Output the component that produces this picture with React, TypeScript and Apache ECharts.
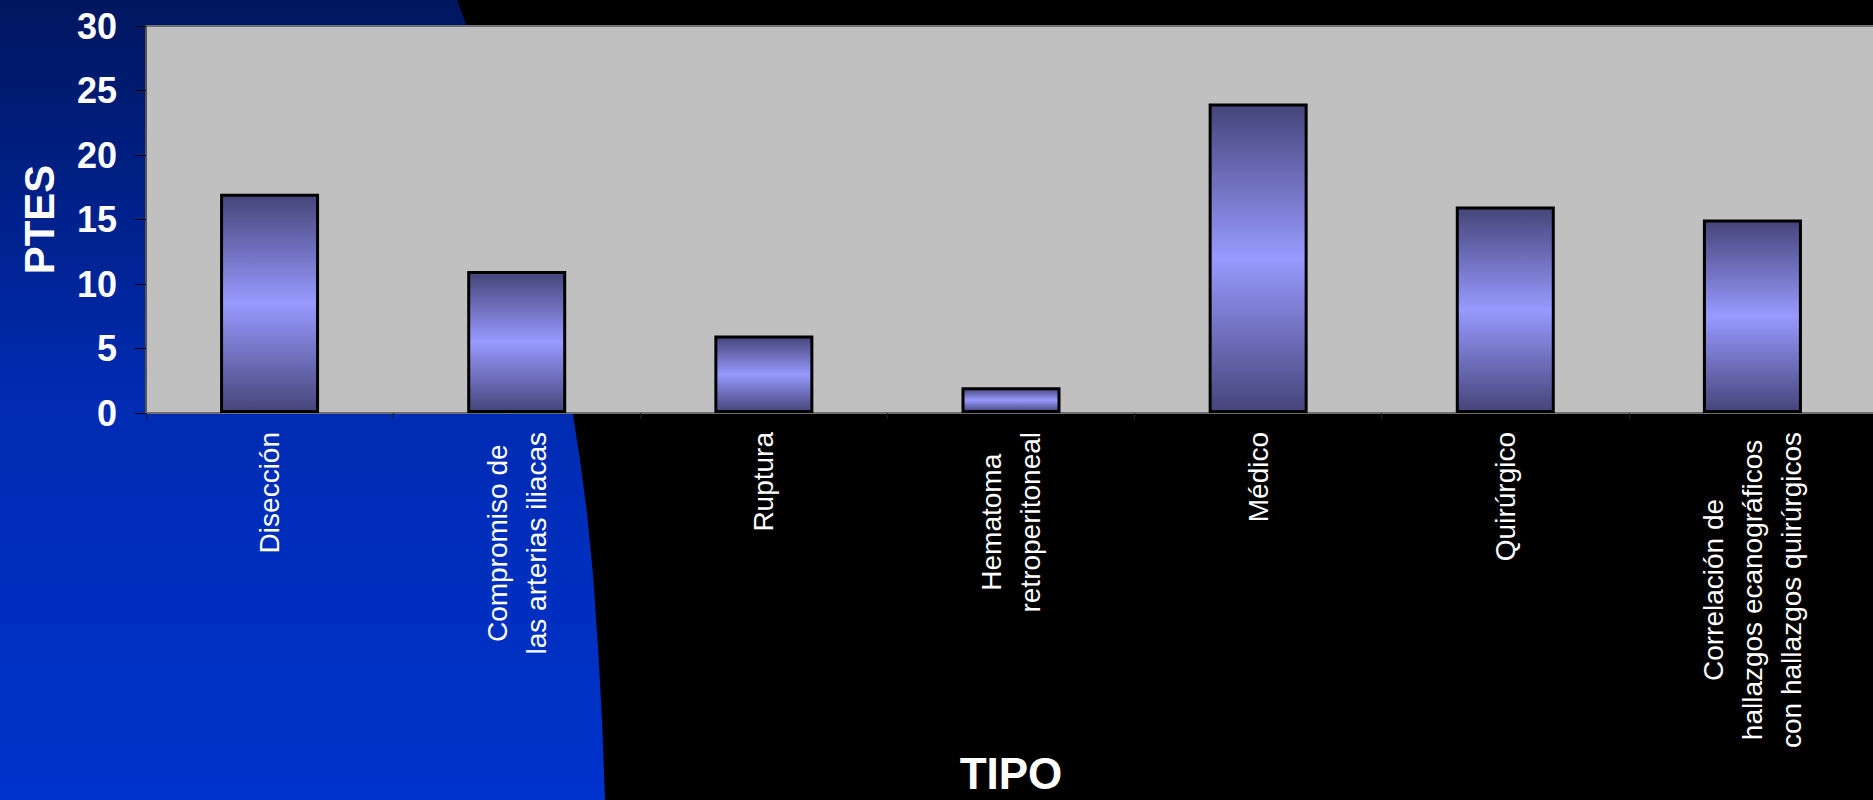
import React, { useEffect, useRef } from "react";
import * as echarts from "echarts";

const categories = [
  "Disección",
  "Compromiso de\nlas arterias iliacas",
  "Ruptura",
  "Hematoma\nretroperitoneal",
  "Médico",
  "Quirúrgico",
  "Correlación de\nhallazgos ecanográficos\ncon hallazgos quirúrgicos",
];
const values = [17, 11, 6, 2, 24, 16, 15];
const yMin = 0;
const yMax = 30;
const yStep = 5;
const xTitle = "TIPO";
const yTitle = "PTES";

export default function App() {
  const ref = useRef<HTMLDivElement>(null);
  useEffect(() => {
    if (!ref.current) return;
    const chart = echarts.init(ref.current, undefined, { renderer: "svg" });
    const font = "'Liberation Sans', Arial, sans-serif";
    chart.setOption({
      animation: false,
      backgroundColor: "#000000",
      graphic: [
        {
          type: "polygon",
          z: -10,
          silent: true,
          shape: {
            points: [
              [0, 0],
              [457, 0],
              [466, 24],
              [500, 130],
              [530, 240],
              [555, 335],
              [573, 415],
              [580, 460],
              [587, 513],
              [593, 575],
              [598, 647],
              [602, 720],
              [605, 800],
              [0, 800],
            ],
          },
          style: {
            fill: new echarts.graphic.LinearGradient(0, 0, 0, 1, [
              { offset: 0, color: "#00165f" },
              { offset: 0.5, color: "#002bb2" },
              { offset: 1, color: "#0033cc" },
            ]),
          },
        },
      ],
      grid: {
        left: 146,
        top: 26,
        right: -3,
        bottom: 387,
        show: true,
        backgroundColor: "#c0c0c0",
        borderColor: "#707070",
        borderWidth: 2,
        containLabel: false,
        outerBoundsMode: "none",
      },
      xAxis: {
        type: "category",
        data: categories,
        name: xTitle,
        nameLocation: "middle",
        nameGap: 338,
        nameTextStyle: {
          color: "#ffffff",
          fontSize: 44,
          lineHeight: 44,
          fontWeight: "bold",
          fontFamily: font,
        },
        axisLine: { show: true, lineStyle: { color: "#6e6e6e", width: 2 } },
        axisTick: {
          show: true,
          alignWithLabel: false,
          length: 6,
          lineStyle: { color: "#202020", width: 1 },
        },
        axisLabel: {
          interval: 0,
          rotate: 90,
          margin: 19,
          color: "#ffffff",
          fontSize: 28,
          fontFamily: font,
          lineHeight: 39,
          formatter: (v: string) =>
            v
              .split("\n")
              .map((l) => `{c|${l}}`)
              .join("\n"),
          rich: {
            c: {
              align: "center",
              color: "#ffffff",
              fontSize: 28,
              fontFamily: font,
              lineHeight: 39,
            },
          },
        },
        splitLine: { show: false },
      },
      yAxis: {
        type: "value",
        min: yMin,
        max: yMax,
        interval: yStep,
        name: yTitle,
        nameLocation: "middle",
        nameGap: 86,
        nameRotate: 90,
        nameTextStyle: {
          color: "#ffffff",
          fontSize: 42,
          fontWeight: "bold",
          fontFamily: font,
        },
        axisLine: { show: true, lineStyle: { color: "#555555", width: 2 } },
        axisTick: {
          show: true,
          length: 11,
          lineStyle: { color: "#000000", width: 1 },
        },
        axisLabel: {
          margin: 29,
          color: "#ffffff",
          fontSize: 36,
          fontWeight: "bold",
          fontFamily: font,
        },
        splitLine: {
          show: true,
          showMinLine: false,
          showMaxLine: false,
          lineStyle: {
            color: "#000000",
            width: 1,
            shadowColor: "#a0a0a0",
            shadowOffsetY: 2,
            shadowBlur: 0,
          },
        },
      },
      series: [
        {
          type: "bar",
          data: values,
          barWidth: 99,
          itemStyle: {
            color: new echarts.graphic.LinearGradient(0, 0, 0, 1, [
              { offset: 0, color: "#45457a" },
              { offset: 0.5, color: "#9999ff" },
              { offset: 1, color: "#45457a" },
            ]),
            borderColor: "#000000",
            borderWidth: 3,
          },
        },
      ],
    });
    return () => chart.dispose();
  }, []);
  return (
    <div
      ref={ref}
      style={{ position: "fixed", left: 0, top: 0, width: 1873, height: 800 }}
    />
  );
}
